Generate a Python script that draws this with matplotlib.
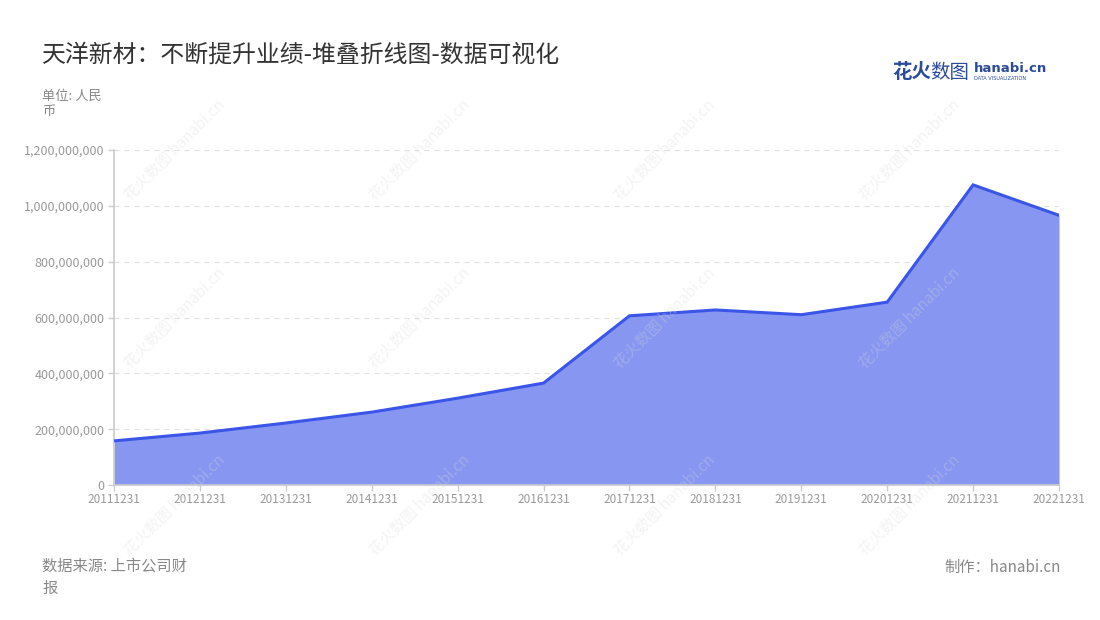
import matplotlib
matplotlib.use('Agg')
import matplotlib.pyplot as plt
from matplotlib.ticker import FuncFormatter

plt.rcParams['font.family'] = ['Noto Sans CJK SC', 'DejaVu Sans']

# 报告期与业绩（元）
periods = ['20111231', '20121231', '20131231', '20141231', '20151231', '20161231',
           '20171231', '20181231', '20191231', '20201231', '20211231', '20221231']
values = [158e6, 186e6, 222e6, 261e6, 311e6, 365e6,
          606e6, 627e6, 610e6, 655e6, 1075e6, 966e6]
yticks = [0, 200e6, 400e6, 600e6, 800e6, 1000e6, 1200e6]

fig = plt.figure(figsize=(11, 6.2), dpi=100)
ax = fig.add_axes([114 / 1100, 1 - 485 / 620, (1059 - 114) / 1100, (485 - 150) / 620])

x = list(range(len(periods)))
ax.fill_between(x, values, 0, color='#8797F1', lw=0, zorder=2)
ax.plot(x, values, color='#3A55E8', lw=2.2, zorder=3, solid_joinstyle='miter')

ax.set_xlim(0, len(periods) - 1)
ax.set_ylim(0, 1200e6)
ax.set_xticks(x)
ax.set_xticklabels(periods)
ax.set_yticks(yticks)
ax.yaxis.set_major_formatter(FuncFormatter(lambda v, p: f'{int(v):,}'))
ax.tick_params(axis='both', colors='#cccccc', labelcolor='#999999', length=4, width=1)
ax.tick_params(axis='x', labelsize=8.5, pad=2)
ax.tick_params(axis='y', labelsize=9, pad=3)

ax.grid(axis='y', color='#e0e0e0', linestyle=(0, (4, 4)), lw=0.9, zorder=1)
for side in ['top', 'right']:
    ax.spines[side].set_visible(False)
for side in ['left', 'bottom']:
    ax.spines[side].set_color('#cccccc')
    ax.spines[side].set_linewidth(1.2)

# 水印
for wx in [175, 420, 665, 910]:
    for wy in [150, 318, 505]:
        fig.text(wx / 1100, 1 - wy / 620, '花火数图 hanabi.cn', rotation=45, fontsize=11,
                 color='#d8d8d8', ha='center', va='center', alpha=0.3, zorder=5)

fig.text(42 / 1100, 1 - 55 / 620, '天洋新材：不断提升业绩-堆叠折线图-数据可视化',
         fontsize=17.2, color='#333333', va='center')
fig.text(42 / 1100, 1 - 104 / 620, '单位: 人民\n币', fontsize=9.5, color='#888888',
         va='center', linespacing=1.3)

# logo
fig.text(892 / 1100, 1 - 72 / 620, '花火', fontsize=14, color='#2B4C9B',
         fontweight='bold', va='center')
fig.text(930 / 1100, 1 - 72 / 620, '数图', fontsize=14, color='#2B4C9B', va='center')
fig.text(974 / 1100, 1 - 69 / 620, 'hanabi.cn', fontsize=9.5, color='#2B4C9B',
         fontweight='bold', va='center', family=['DejaVu Sans'])
fig.text(974 / 1100, 1 - 79 / 620, 'DATA VISUALIZATION', fontsize=3.6, color='#2B4C9B',
         va='center', family=['DejaVu Sans'])

fig.text(42 / 1100, 1 - 577 / 620, '数据来源: 上市公司财\n报', fontsize=11, color='#888888',
         va='center', linespacing=1.4)
fig.text(1061 / 1100, 1 - 567 / 620, '制作：hanabi.cn', fontsize=11, color='#888888',
         va='center', ha='right')

fig.savefig('out.png', dpi=100)
plt.close(fig)
